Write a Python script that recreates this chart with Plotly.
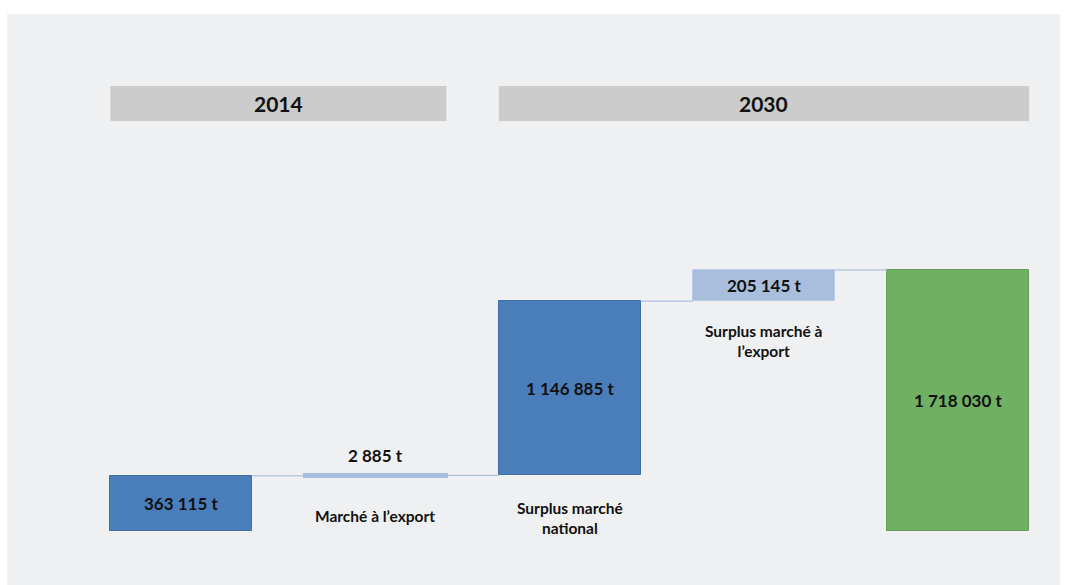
import plotly.graph_objects as go

# Waterfall data (tonnes)
steps = ["2014", "Marché à l’export", "Surplus marché national",
         "Surplus marché à l’export", "2030"]
values = [363115, 2885, 1146885, 205145, 1718030]
measures = ["absolute", "relative", "relative", "relative", "total"]
step_labels = ["", "Marché à l’export", "Surplus marché<br>national",
               "Surplus marché à<br>l’export", ""]
periods = ["2014", "2030"]
period_spans = [(0, 1), (2, 4)]

DARK_BLUE = "#4a7ebb"
LIGHT_BLUE = "#a9bedd"
GREEN = "#70b062"
colors = [DARK_BLUE, LIGHT_BLUE, DARK_BLUE, LIGHT_BLUE, GREEN]
edge_colors = ["#3f6ea8", LIGHT_BLUE, "#3f6ea8", "#b9cbe5", "#62a055"]
edge_widths = [1, 4, 1, 1, 1]
FONT = "Lato"
BAR_W = 0.73

# running base of each bar
bases, heights = [], []
running = 0
for v, m in zip(values, measures):
    if m == "absolute":
        bases.append(0); heights.append(v); running = v
    elif m == "relative":
        bases.append(running); heights.append(v); running += v
    else:
        bases.append(0); heights.append(v)
tops = [b + h for b, h in zip(bases, heights)]
total = values[-1]

xs = list(range(len(values)))

fig = go.Figure()

# connector lines between consecutive bars
cx, cy = [], []
for i in range(len(values) - 1):
    cx += [i + BAR_W / 2, i + 1 - BAR_W / 2, None]
    cy += [tops[i], tops[i], None]
fig.add_trace(go.Scatter(x=cx, y=cy, mode="lines",
                         line=dict(color="#9db5d8", width=1),
                         hoverinfo="skip", showlegend=False))

fig.add_trace(go.Bar(
    x=xs, y=heights, base=bases, width=BAR_W,
    marker=dict(color=colors, line=dict(color=edge_colors, width=edge_widths)),
    hovertext=steps, hoverinfo="text", showlegend=False,
))


def fmt(v):
    return f"{v:,}".replace(",", " ") + " t"


annotations = []
for i, v in enumerate(values):
    if i == 1:
        annotations.append(dict(x=i, y=tops[i], yanchor="bottom", yshift=7,
                                text=f"<b>{fmt(v)}</b>", showarrow=False,
                                font=dict(family=FONT, size=17, color="#111")))
    else:
        annotations.append(dict(x=i, y=bases[i] + heights[i] / 2,
                                yanchor="middle", text=f"<b>{fmt(v)}</b>",
                                showarrow=False,
                                font=dict(family=FONT, size=17, color="#111")))

shifts = {1: -29, 2: -22, 3: -19}
for i, lab in enumerate(step_labels):
    if not lab:
        continue
    annotations.append(dict(x=i, y=bases[i], yanchor="top", yshift=shifts[i],
                            text=f"<b>{lab}</b>", showarrow=False,
                            font=dict(family=FONT, size=15.5, color="#111")))

shapes = []
for p, (a, b) in zip(periods, period_spans):
    shapes.append(dict(type="rect", xref="x", yref="paper",
                       x0=a - BAR_W / 2, x1=b + BAR_W / 2,
                       y0=0.8126, y1=0.8739,
                       fillcolor="#cbcccb", line=dict(width=0), layer="below"))
    annotations.append(dict(x=(a + b) / 2, xref="x", y=(0.8126 + 0.8739) / 2,
                            yref="paper", yanchor="middle",
                            text=f"<b>{p}</b>", showarrow=False,
                            font=dict(family=FONT, size=21, color="#111")))

fig.update_layout(
    width=1067, height=585,
    margin=dict(l=7, r=7, t=14, b=0),
    paper_bgcolor="white", plot_bgcolor="#eff0f2",
    xaxis=dict(range=[-0.897, 4.524], visible=False, fixedrange=True),
    yaxis=dict(range=[-total * 54 / 261, total * 517 / 261], visible=False,
               fixedrange=True),
    shapes=shapes, annotations=annotations,
    bargap=0,
)

fig.write_html("out.html")
